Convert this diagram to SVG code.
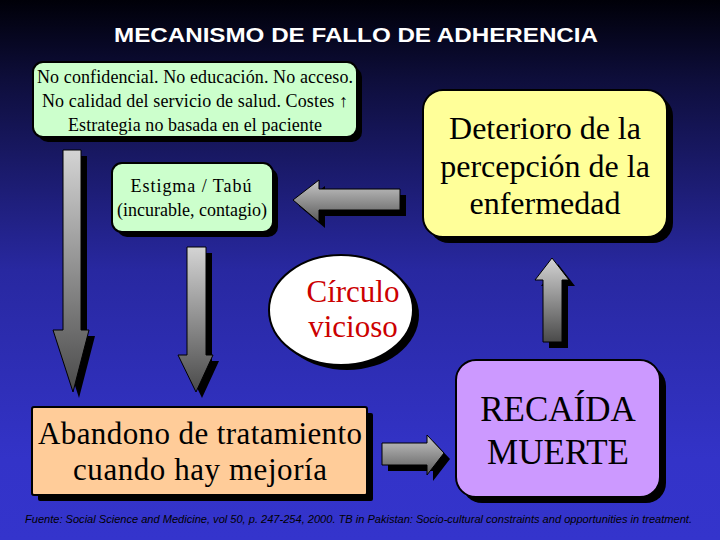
<svg xmlns="http://www.w3.org/2000/svg" width="720" height="540" viewBox="0 0 720 540">
<defs>
<linearGradient id="bg" x1="0" y1="0" x2="0" y2="1">
<stop offset="0" stop-color="#000008"/>
<stop offset="0.15" stop-color="#0e0e3c"/>
<stop offset="0.5" stop-color="#2828a0"/>
<stop offset="0.85" stop-color="#3333c8"/>
<stop offset="1" stop-color="#3434cc"/>
</linearGradient>
<linearGradient id="ag" x1="0" y1="0" x2="0" y2="1">
<stop offset="0" stop-color="#d4d4d4"/>
<stop offset="1" stop-color="#4a4a4a"/>
</linearGradient>
<linearGradient id="ah" x1="0" y1="0" x2="0" y2="1">
<stop offset="0" stop-color="#c8c8c8"/>
<stop offset="1" stop-color="#5a5a5a"/>
</linearGradient>
<style>
.box{stroke:#000;stroke-width:2}
.sh{fill:#000}
.arr{stroke:#000;stroke-width:1}
</style>
</defs>
<rect width="720" height="540" fill="url(#bg)"/>
<text x="356" y="42" font-family="Liberation Sans, Arial, sans-serif" font-weight="bold" font-size="20" fill="#fff" text-anchor="middle" textLength="484" lengthAdjust="spacingAndGlyphs">MECANISMO DE FALLO DE ADHERENCIA</text>

<g id="connectors">
<g id="arrow-down-long">
<polygon class="sh" points="69,156 87,156 87,336 95,336 79,398 59,336 69,336"/>
<polygon class="arr" fill="url(#ag)" points="63,150 81,150 81,330 89,330 73,392 53,330 63,330"/>
</g>
<g id="arrow-down-short">
<polygon class="sh" points="193,253 212,253 212,361 219,361 202,398 184,361 193,361"/>
<polygon class="arr" fill="url(#ag)" points="187,247 206,247 206,355 213,355 196,392 178,355 187,355"/>
</g>
<g id="arrow-left">
<polygon class="sh" points="299,206 325,186 325,195 406,195 406,216 325,216 325,228"/>
<polygon class="arr" fill="url(#ah)" points="293,200 319,180 319,189 400,189 400,210 319,210 319,222"/>
</g>
<g id="arrow-right">
<polygon class="sh" points="388,449 433,449 433,441 450,459 433,481 433,471 388,471"/>
<polygon class="arr" fill="url(#ah)" points="382,443 427,443 427,435 444,453 427,475 427,465 382,465"/>
</g>
<g id="arrow-up">
<polygon class="sh" points="558,264 575,286 568,286 568,348 549,348 549,286 541,286"/>
<polygon class="arr" fill="url(#ag)" points="552,258 569,280 562,280 562,342 543,342 543,280 535,280"/>
</g>
</g>

<g font-family="Liberation Serif, DejaVu Serif, serif" text-anchor="middle" fill="#000" lengthAdjust="spacingAndGlyphs">
<g id="node-causas">
<rect class="sh" x="38" y="67" width="324" height="75" rx="10"/>
<rect class="box" x="33" y="62" width="324" height="75" rx="10" fill="#ccffcc"/>
<text font-size="18" x="195" y="83" textLength="316">No confidencial. No educación. No acceso.</text>
<text font-size="18" x="195" y="107" textLength="306">No calidad del servicio de salud. Costes ↑</text>
<text font-size="18" x="195" y="131" textLength="254">Estrategia no basada en el paciente</text>
</g>

<g id="node-estigma">
<rect class="sh" x="117" y="168" width="161" height="69" rx="10"/>
<rect class="box" x="112" y="163" width="161" height="69" rx="10" fill="#ccffcc"/>
<text font-size="18" x="191" y="192" textLength="121">Estigma / Tabú</text>
<text font-size="18" x="192" y="216" textLength="150">(incurable, contagio)</text>
</g>

<g id="node-deterioro">
<rect class="sh" x="429" y="96" width="244" height="147" rx="20"/>
<rect class="box" x="423" y="90" width="244" height="147" rx="20" fill="#ffff99"/>
<text font-size="32" x="545" y="139">Deterioro de la</text>
<text font-size="32" x="545" y="177">percepción de la</text>
<text font-size="32" x="545" y="214">enfermedad</text>
</g>

<g id="node-circulo">
<ellipse class="sh" cx="347" cy="315" rx="72" ry="55"/>
<ellipse class="box" cx="341" cy="310" rx="72" ry="55" fill="#fff"/>
<text font-size="31" x="353" y="302" fill="#cc0000">Círculo</text>
<text font-size="31" x="353" y="337" fill="#cc0000">vicioso</text>
</g>

<g id="node-abandono">
<rect class="sh" x="38" y="413" width="335" height="88" rx="2"/>
<rect class="box" x="32" y="407" width="335" height="88" rx="2" fill="#ffcc99"/>
<text font-size="31" x="200" y="444" textLength="324">Abandono de tratamiento</text>
<text font-size="31" x="200" y="480" textLength="254">cuando hay mejoría</text>
</g>

<g id="node-recaida">
<rect class="sh" x="462" y="366" width="204" height="137" rx="20"/>
<rect class="box" x="456" y="360" width="204" height="137" rx="20" fill="#cc99ff"/>
<text font-size="35" x="558" y="421">RECAÍDA</text>
<text font-size="35" x="558" y="464">MUERTE</text>
</g>
</g>

<text x="25" y="523" font-family="Liberation Sans, Arial, sans-serif" font-style="italic" font-size="10" fill="#000" textLength="667" lengthAdjust="spacingAndGlyphs">Fuente: Social Science and Medicine, vol 50, p. 247-254, 2000. TB in Pakistan: Socio-cultural constraints and opportunities in treatment.</text>
</svg>
